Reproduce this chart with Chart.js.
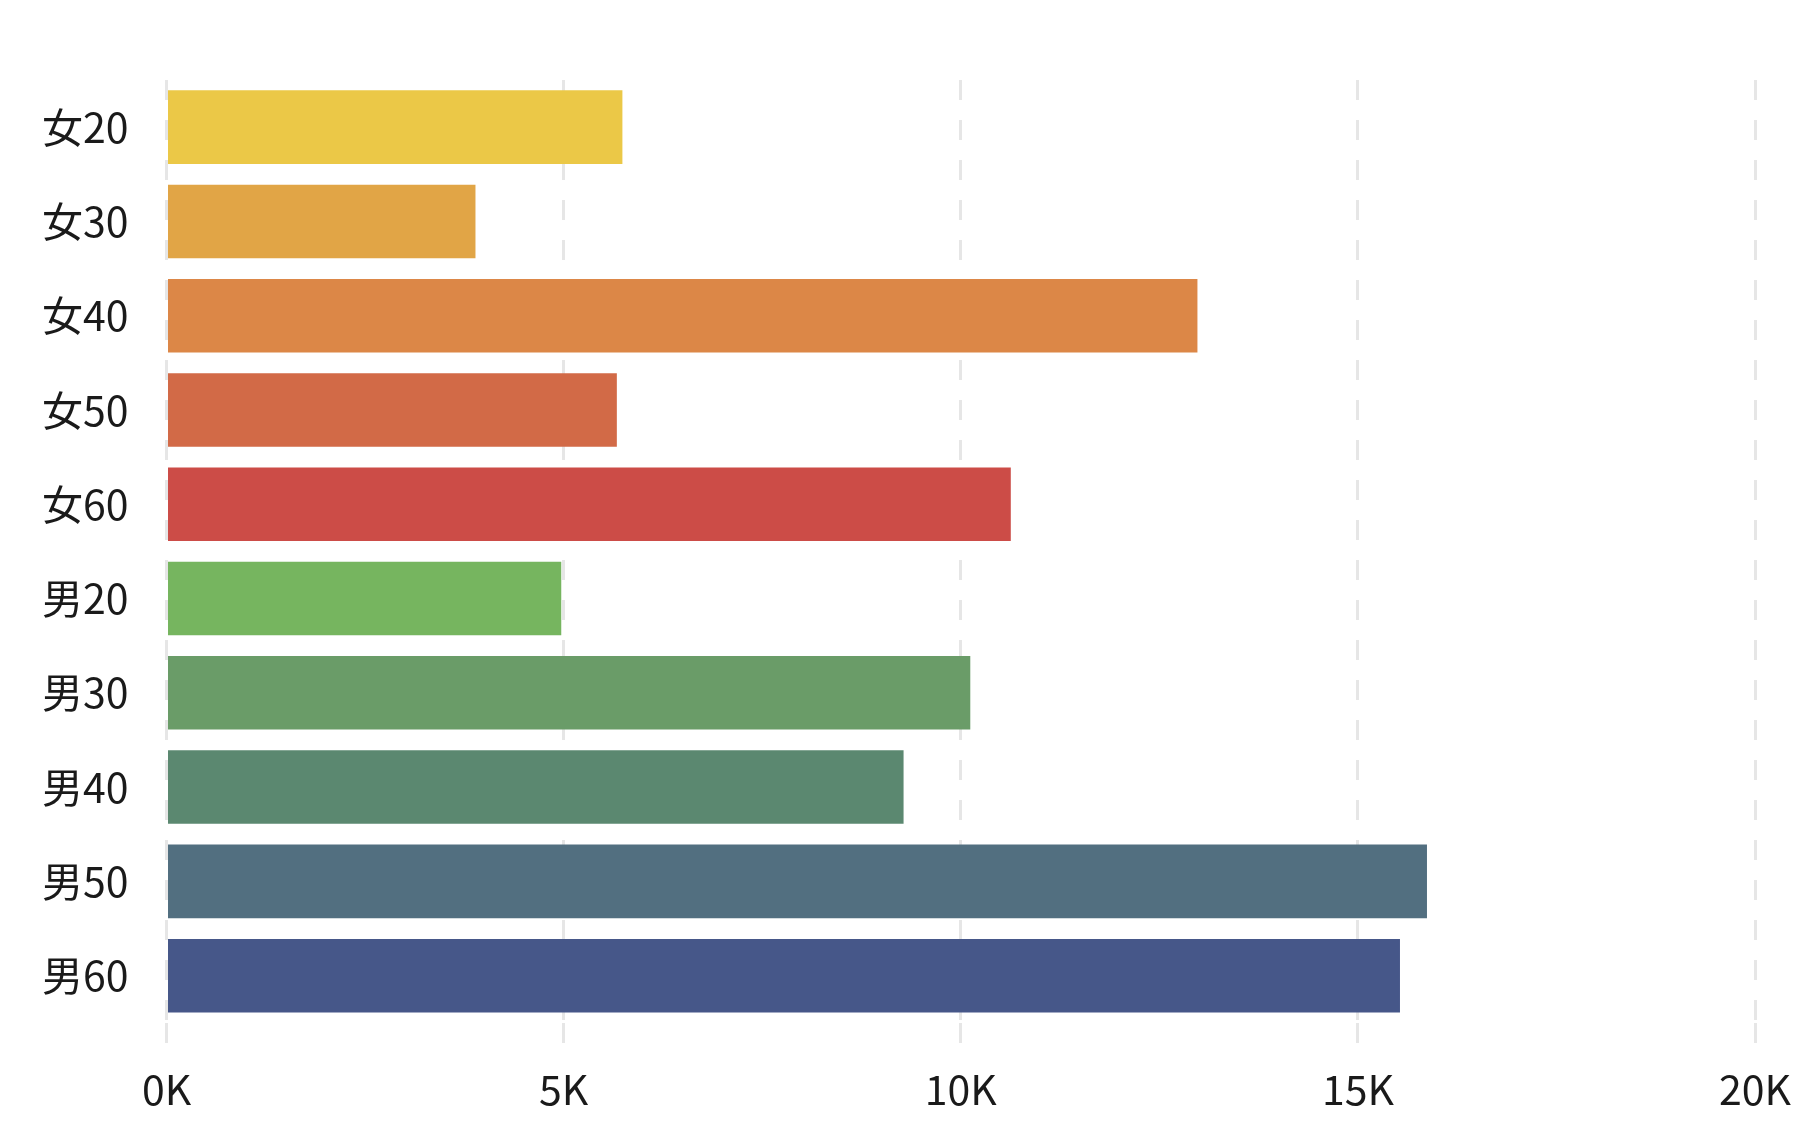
<!DOCTYPE html>
<html>
<head>
<meta charset="utf-8">
<script src="https://cdn.jsdelivr.net/npm/chart.js@4/dist/chart.umd.min.js"></script>
<style>
  html, body { margin: 0; padding: 0; background: #fff; }
  #wrap { width: 1806px; height: 1132px; }
</style>
</head>
<body>
<div id="wrap"><canvas id="ageChart"></canvas></div>
<script>
const ctx = document.getElementById("ageChart");

const groupLabels = ["女20", "女30", "女40", "女50", "女60", "男20", "男30", "男40", "男50", "男60"];
const groupValues = [5740, 3890, 12980, 5670, 10630, 4970, 10120, 9280, 15870, 15530];
const groupColors = ["#EBC847", "#E1A546", "#DC8747", "#D26A47", "#CC4C47", "#76B55F", "#6A9C68", "#5B8870", "#526F80", "#465789"];
const xTicks = [0, 5000, 10000, 15000, 20000];

const fontFamily = "'Noto Sans CJK JP', 'Noto Sans', sans-serif";

//draw
function drawBarChart(){
    const barChart = new Chart(ctx, {
        type: "bar",
        data: {
            labels: groupLabels,
            datasets: [{
                data: groupValues,
                backgroundColor: groupColors,
                borderWidth: 0,
                barPercentage: 0.78,
                categoryPercentage: 1
            }]
        },
        options: {
            indexAxis: "y",
            responsive: true,
            maintainAspectRatio: false,
            animation: false,
            layout: {
                padding: { left: 4, right: 13, top: 80, bottom: 3 }
            },
            plugins: {
                legend: { display: false },
                tooltip: { enabled: false }
            },
            scales: {
                x: {
                    min: xTicks[0],
                    max: xTicks[xTicks.length - 1],
                    afterBuildTicks: axis => { axis.ticks = xTicks.map(v => ({ value: v })); },
                    grid: {
                        color: "#e6e6e6",
                        lineWidth: 3,
                        tickLength: 27,
                        tickColor: "#e6e6e6",
                        tickWidth: 3,
                        tickBorderDash: [20, 20]
                    },
                    border: { display: false, dash: [20, 20] },
                    ticks: {
                        color: "#1a1a1a",
                        padding: 15,
                        font: { family: fontFamily, size: 41 },
                        callback: value => (value / 1000) + "K"
                    }
                },
                y: {
                    grid: { display: false, drawTicks: false },
                    border: { display: false },
                    ticks: {
                        color: "#1a1a1a",
                        padding: 38,
                        font: { family: fontFamily, size: 41 }
                    }
                }
            }
        }
    });
    return barChart;
}

drawBarChart();
</script>
</body>
</html>
